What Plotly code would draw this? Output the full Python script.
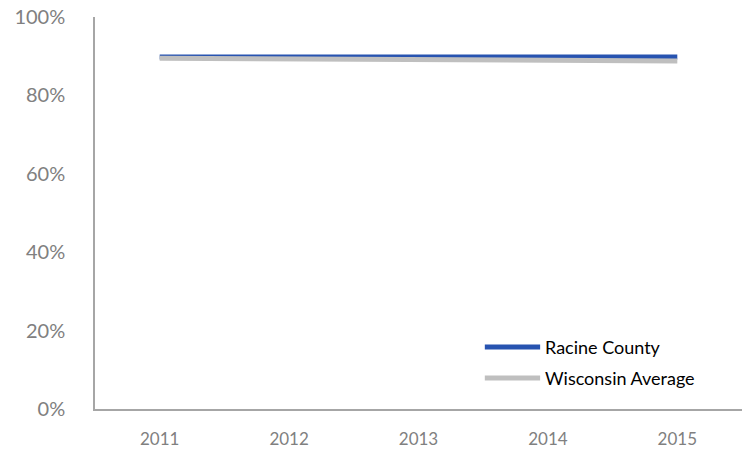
import plotly.graph_objects as go

# Data
years = ["2011", "2012", "2013", "2014", "2015"]
racine_county = [0.898, 0.898, 0.897, 0.898, 0.898]
wisconsin_avg = [0.895, 0.894, 0.891, 0.890, 0.888]
series_names = ["Racine County", "Wisconsin Average"]
series_colors = ["#2753b0", "#bfbfbf"]

FONT = "Lato"
TICK_COLOR = "#808080"

fig = go.Figure()
for name, vals, color in zip(series_names, [racine_county, wisconsin_avg], series_colors):
    fig.add_trace(go.Scatter(
        x=years, y=vals, mode="lines", name=name,
        line=dict(color=color, width=5),
        showlegend=False,
        hovertemplate="%{x}: %{y:.1%}<extra>" + name + "</extra>",
    ))

# Legend drawn as line samples plus labels in the lower right
legend_x0, legend_x1 = 0.6025, 0.688
legend_rows = [0.158, 0.079]
for name, color, ypos in zip(series_names, series_colors, legend_rows):
    fig.add_shape(type="line", xref="paper", yref="paper",
                  x0=legend_x0, x1=legend_x1, y0=ypos, y1=ypos,
                  line=dict(color=color, width=5))
    fig.add_annotation(x=legend_x1 + 0.005, y=ypos, xref="paper", yref="paper",
                       text=name, showarrow=False, xanchor="left", yanchor="middle",
                       font=dict(family=FONT, size=18, color="#000000"))

fig.update_layout(
    template="none",
    width=747, height=453,
    margin=dict(l=95, r=5, t=17, b=44, pad=0),
    paper_bgcolor="white", plot_bgcolor="white",
    font=dict(family=FONT, color=TICK_COLOR),
    showlegend=False,
    xaxis=dict(
        type="category", range=[-0.5, 4.5], automargin=False,
        showgrid=False, zeroline=False,
        showline=True, linecolor="#a6a6a6", linewidth=1.5,
        ticks="", tickfont=dict(size=17, color=TICK_COLOR),
        ticklabelstandoff=14,
    ),
    yaxis=dict(
        range=[0, 1], tickvals=[0, 0.2, 0.4, 0.6, 0.8, 1.0], automargin=False,
        tickformat=".0%", showgrid=False, zeroline=False,
        showline=True, linecolor="#a6a6a6", linewidth=1.5,
        ticks="", tickfont=dict(size=20, color=TICK_COLOR),
        ticklabelstandoff=24,
    ),
)

fig.write_html("out.html")
